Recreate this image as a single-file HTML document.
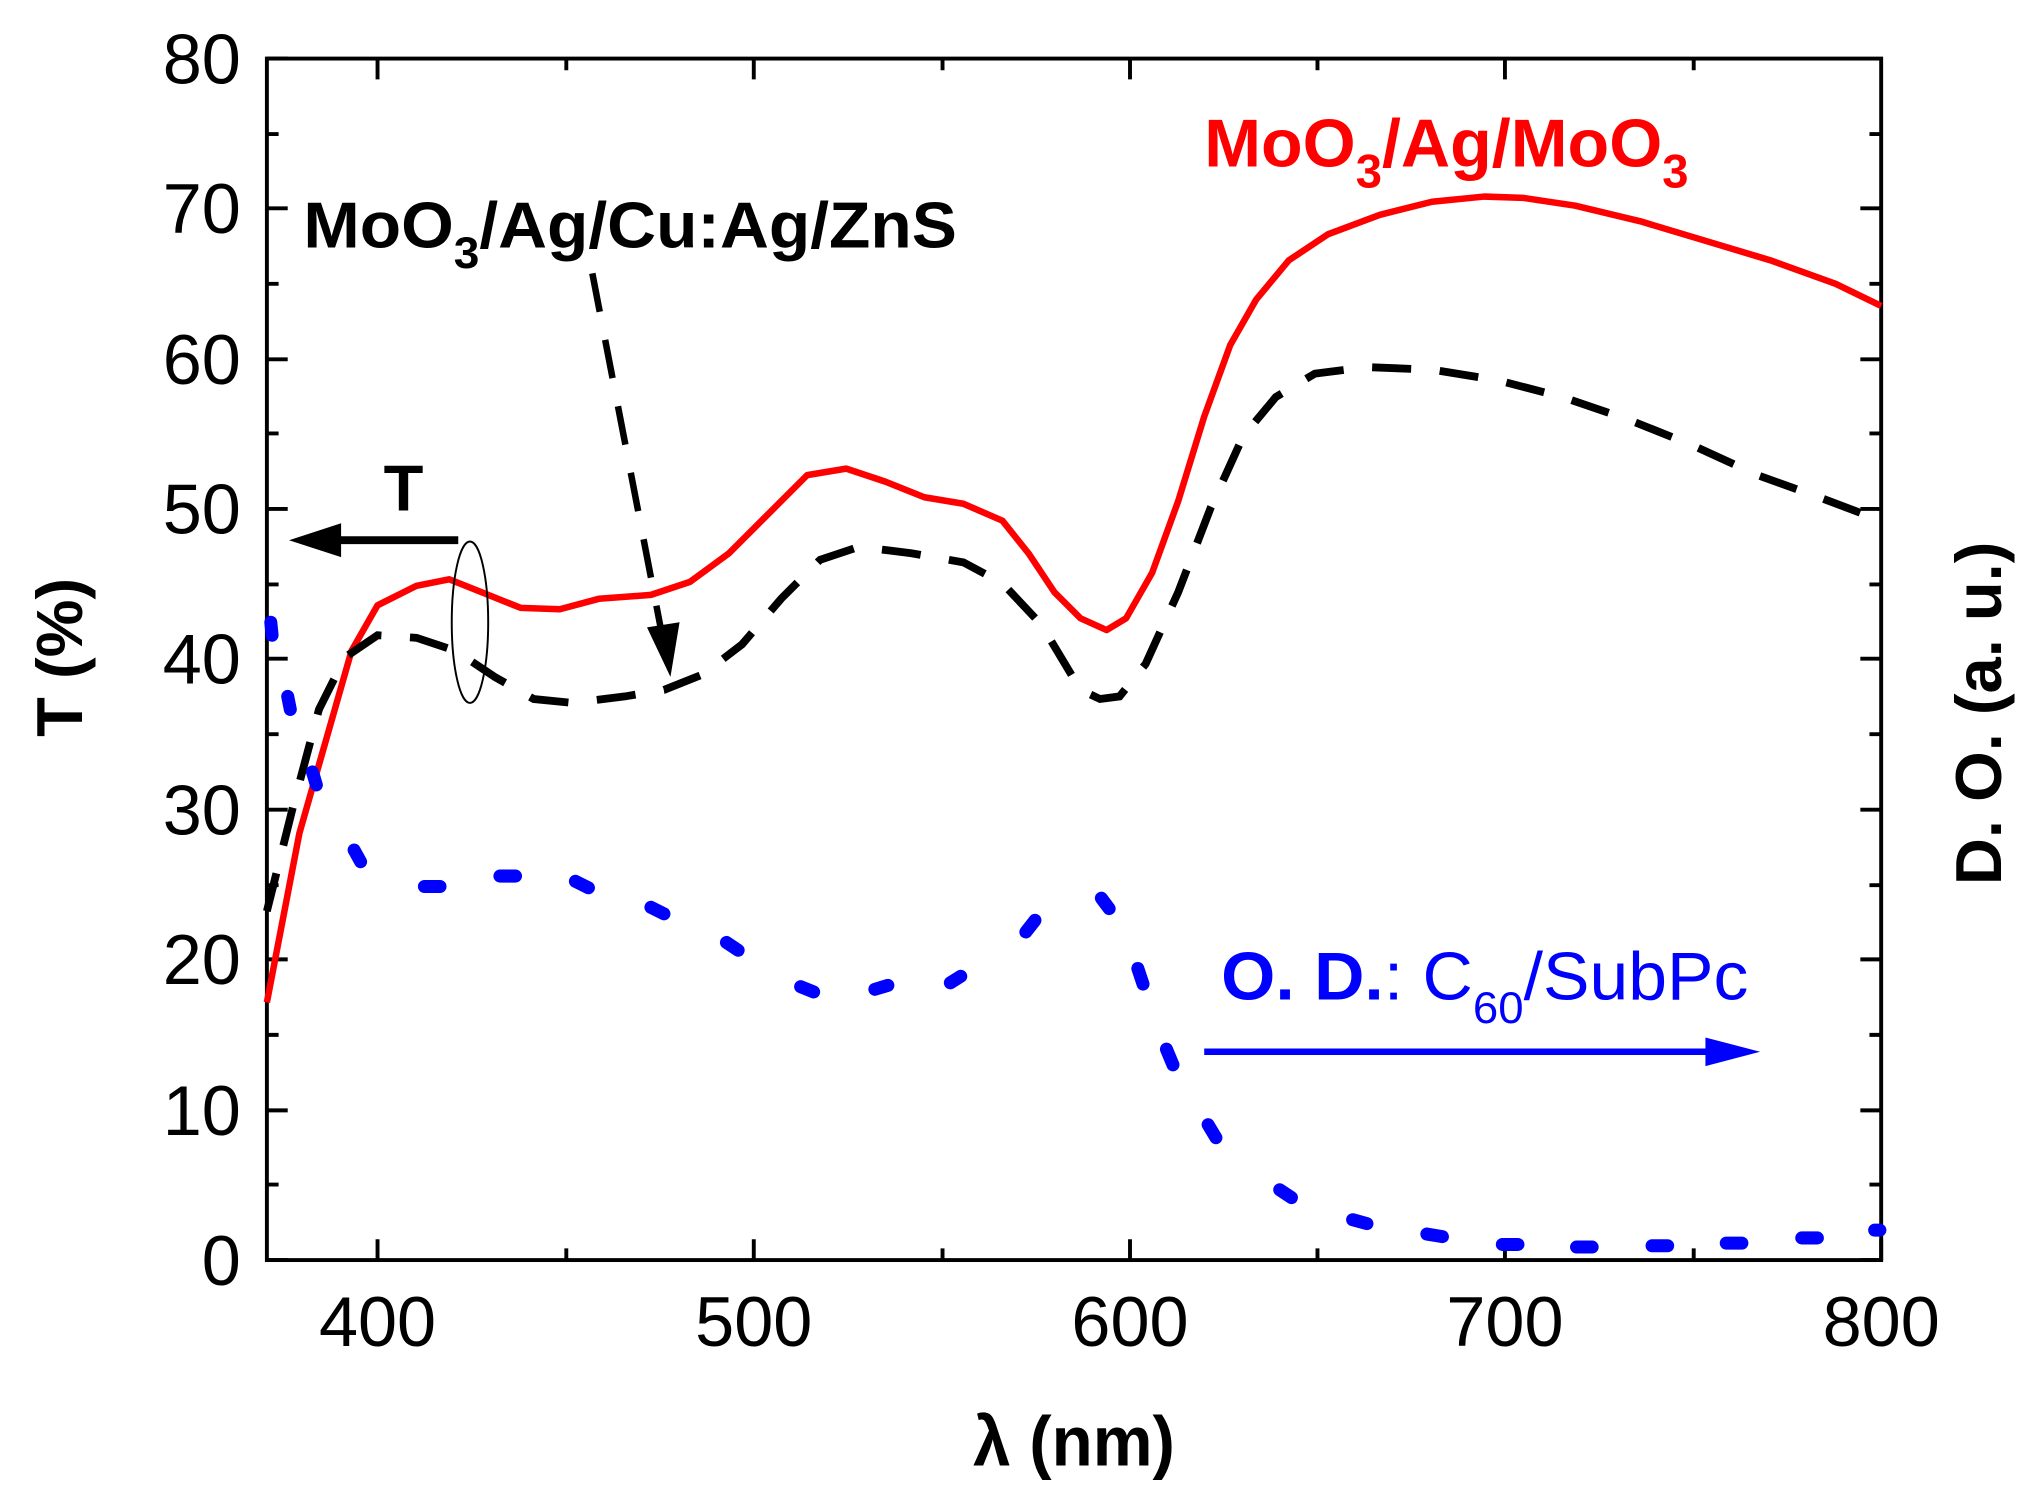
<!DOCTYPE html>
<html><head><meta charset="utf-8"><style>html,body{margin:0;padding:0;background:#fff}svg{display:block}</style></head>
<body>
<svg width="2040" height="1510" viewBox="0 0 1567 1160" preserveAspectRatio="none" xmlns="http://www.w3.org/2000/svg" font-family="Liberation Sans, sans-serif">
<rect width="1567" height="1160" fill="#fff"/>
<rect x="205" y="45" width="1240" height="923" fill="none" stroke="#000" stroke-width="3"/>
<g stroke="#000" stroke-width="3">
<path d="M205 968h16M205 853h16M205 737h16M205 622h16M205 506h16M205 391h16M205 276h16M205 160h16M205 45h16
M205 910h9M205 795h9M205 680h9M205 564h9M205 449h9M205 333h9M205 218h9M205 103h9
M1445 968h-16M1445 853h-16M1445 737h-16M1445 622h-16M1445 506h-16M1445 391h-16M1445 276h-16M1445 160h-16
M1445 910h-9M1445 795h-9M1445 680h-9M1445 564h-9M1445 449h-9M1445 333h-9M1445 218h-9M1445 103h-9"/>
<path d="M290 968v-16M579 968v-16M868 968v-16M1156 968v-16M1445 968v-16
M435 968v-9M724 968v-9M1012 968v-9M1301 968v-9
M290 45v16M579 45v16M868 45v16M1156 45v16
M435 45v9M724 45v9M1012 45v9M1301 45v9"/>
</g>
<g font-size="54" text-anchor="end" fill="#000" lengthAdjust="spacingAndGlyphs">
<text x="185" y="987" textLength="30" lengthAdjust="spacingAndGlyphs">0</text>
<text x="185" y="872" textLength="60" lengthAdjust="spacingAndGlyphs">10</text>
<text x="185" y="756" textLength="60" lengthAdjust="spacingAndGlyphs">20</text>
<text x="185" y="641" textLength="60" lengthAdjust="spacingAndGlyphs">30</text>
<text x="185" y="525" textLength="60" lengthAdjust="spacingAndGlyphs">40</text>
<text x="185" y="410" textLength="60" lengthAdjust="spacingAndGlyphs">50</text>
<text x="185" y="295" textLength="60" lengthAdjust="spacingAndGlyphs">60</text>
<text x="185" y="179" textLength="60" lengthAdjust="spacingAndGlyphs">70</text>
<text x="185" y="64" textLength="60" lengthAdjust="spacingAndGlyphs">80</text>
</g>
<g font-size="54" text-anchor="middle" fill="#000">
<text x="290" y="1034" textLength="90" lengthAdjust="spacingAndGlyphs">400</text>
<text x="579" y="1034" textLength="90" lengthAdjust="spacingAndGlyphs">500</text>
<text x="868" y="1034" textLength="90" lengthAdjust="spacingAndGlyphs">600</text>
<text x="1156" y="1034" textLength="90" lengthAdjust="spacingAndGlyphs">700</text>
<text x="1445" y="1034" textLength="90" lengthAdjust="spacingAndGlyphs">800</text>
</g>
<text x="825" y="1126" font-size="54" font-weight="bold" text-anchor="middle" textLength="155" lengthAdjust="spacingAndGlyphs">λ (nm)</text>
<text transform="translate(63,505) rotate(-90)" font-size="50" font-weight="bold" text-anchor="middle">T (%)</text>
<text transform="translate(1537,548) rotate(-90)" font-size="50" font-weight="bold" text-anchor="middle">D. O. (a. u.)</text>

<path fill="none" stroke="#f00" stroke-width="5" stroke-linejoin="round" d="M205 770 L230 640 L250 570 L270 500 L290 465 L320 450 L345 445 L370 455 L400 467 L430 468 L460 460 L500 457 L530 447 L560 425 L590 395 L620 365 L650 360 L680 370 L710 382 L740 387 L770 400 L790 425 L810 455 L830 475 L850 484 L865 475 L885 440 L905 385 L925 320 L945 265 L965 230 L990 200 L1020 180 L1060 165 L1100 155 L1140 151 L1170 152 L1210 158 L1260 170 L1310 185 L1360 200 L1410 218 L1445 235"/>
<path fill="none" stroke="#000" stroke-width="6" stroke-dasharray="30 22" d="M205 700 L225 620 L245 545 L265 505 L290 488 L320 490 L350 500 L380 520 L410 537 L440 540 L480 535 L510 530 L540 518 L570 495 L600 460 L630 430 L660 420 L700 425 L740 432 L770 448 L800 480 L830 530 L845 537 L860 535 L880 510 L905 455 L930 390 L955 335 L980 305 L1010 287 L1050 282 L1100 284 L1150 292 L1200 305 L1250 322 L1300 342 L1350 365 L1400 383 L1445 400"/>
<g stroke="#00f" stroke-width="10" stroke-linecap="round">
<path d="M208 478l1 10M221 535l2 10M240 593l3 10M272 653l5 9M326 681h12M384 673h12M442 677l10 5M500 697l10 5M558 724l9 6M615 758l10 4M672 760l10 -3M730 755l8 -5M788 716l7 -9M846 690l6 8M874 744l4 12M896 806l5 12M928 864l6 10M983 914l9 6M1039 937l11 3M1096 948l12 2M1154 956h12M1211 958h12M1269 957h12M1326 955h12M1384 951h12M1440 945h4"/>
</g>
<text x="233" y="190" font-size="50" font-weight="bold" textLength="502" lengthAdjust="spacingAndGlyphs">MoO<tspan font-size="34" dy="16">3</tspan><tspan dy="-16">/Ag/Cu:Ag/ZnS</tspan></text>
<path d="M455 210 L508 485" stroke="#000" stroke-width="5" stroke-dasharray="30 22" fill="none"/>
<polygon points="497,482 522,478 515,520" fill="#000"/>
<text x="925" y="128" font-size="52" font-weight="bold" fill="#f00" textLength="372" lengthAdjust="spacingAndGlyphs">MoO<tspan font-size="36" dy="16">3</tspan><tspan dy="-16">/Ag/MoO</tspan><tspan font-size="36" dy="16">3</tspan></text>
<ellipse cx="361" cy="478" rx="14" ry="62" fill="none" stroke="#000" stroke-width="1.5"/>
<line x1="352" y1="415" x2="245" y2="415" stroke="#000" stroke-width="6"/>
<polygon points="222,415 262,402 262,428" fill="#000"/>
<text x="310" y="392" font-size="50" font-weight="bold" text-anchor="middle">T</text>
<text x="938" y="768" font-size="52" fill="#00f" textLength="405" lengthAdjust="spacingAndGlyphs"><tspan font-weight="bold">O. D.</tspan>: C<tspan font-size="34" dy="18">60</tspan><tspan dy="-18">/SubPc</tspan></text>
<line x1="925" y1="808" x2="1320" y2="808" stroke="#00f" stroke-width="5"/>
<polygon points="1352,808 1310,797 1310,819" fill="#00f"/>
</svg>
</body></html>
